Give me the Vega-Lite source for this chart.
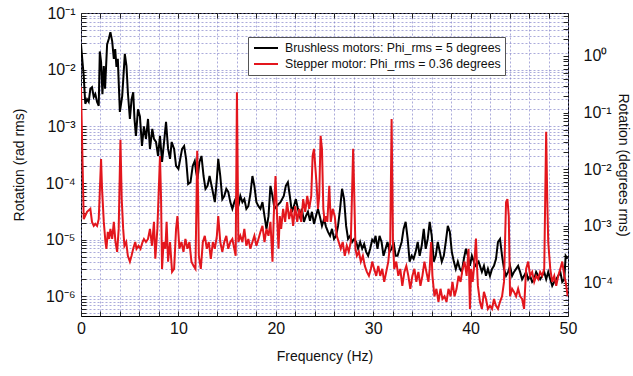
{
  "$schema": "https://vega.github.io/schema/vega-lite/v6.json",
  "width": 487,
  "height": 303,
  "autosize": "none",
  "padding": {"left": 81, "top": 13, "right": 65, "bottom": 60},
  "background": "white",
  "config": {
    "font": "Liberation Sans",
    "view": {"stroke": "#000", "strokeWidth": 1},
    "axis": {"domain": false, "tickColor": "#222", "tickSize": -5, "tickWidth": 1, "labelColor": "#111", "titleColor": "#111", "labelFontSize": 16, "titleFontSize": 14, "titleFontWeight": "normal", "gridColor": "#8080c8", "gridDash": [2, 2], "gridWidth": 0.7, "gridOpacity": 0.95, "labelOverlap": false}
  },
  "layer": [
    {
      "data": {"values": [
        {"f":0,"v":2.8e-2,"m":"B"},{"f":0.28,"v":7.7e-3,"m":"B"},{"f":0.44,"v":2.5e-3,"m":"B"},{"f":0.62,"v":3.0e-3,"m":"B"},{"f":0.79,"v":2.7e-3,"m":"B"},{"f":0.96,"v":4.6e-3,"m":"B"},{"f":1.13,"v":4.9e-3,"m":"B"},{"f":1.31,"v":3.3e-3,"m":"B"},{"f":1.47,"v":3.7e-3,"m":"B"},{"f":1.65,"v":2.7e-3,"m":"B"},{"f":1.82,"v":2.3e-3,"m":"B"},{"f":1.93,"v":2.1e-2,"m":"B"},{"f":2.06,"v":1.37e-2,"m":"B"},{"f":2.2,"v":3.7e-3,"m":"B"},{"f":2.34,"v":1.16e-2,"m":"B"},{"f":2.47,"v":4.6e-3,"m":"B"},{"f":2.68,"v":2.8e-2,"m":"B"},{"f":2.86,"v":3.5e-2,"m":"B"},{"f":3.02,"v":4.6e-2,"m":"B"},{"f":3.2,"v":3.2e-2,"m":"B"},{"f":3.37,"v":1.55e-2,"m":"B"},{"f":3.51,"v":2.3e-2,"m":"B"},{"f":3.64,"v":1.12e-2,"m":"B"},{"f":3.78,"v":1.55e-2,"m":"B"},{"f":3.99,"v":1.8e-3,"m":"B"},{"f":4.23,"v":3.4e-3,"m":"B"},{"f":4.5,"v":1.9e-2,"m":"B"},{"f":4.67,"v":1.16e-2,"m":"B"},{"f":4.81,"v":4.0e-3,"m":"B"},{"f":5.02,"v":1.35e-3,"m":"B"},{"f":5.19,"v":3.0e-3,"m":"B"},{"f":5.36,"v":4.0e-3,"m":"B"},{"f":5.49,"v":1.35e-3,"m":"B"},{"f":5.64,"v":6.8e-4,"m":"B"},{"f":5.85,"v":2.0e-3,"m":"B"},{"f":6.05,"v":1.5e-3,"m":"B"},{"f":6.26,"v":4.5e-4,"m":"B"},{"f":6.46,"v":1.0e-3,"m":"B"},{"f":6.67,"v":6.0e-4,"m":"B"},{"f":6.88,"v":1.35e-3,"m":"B"},{"f":7.08,"v":4.0e-4,"m":"B"},{"f":7.32,"v":9.0e-4,"m":"B"},{"f":7.49,"v":6.0e-4,"m":"B"},{"f":7.7,"v":5.3e-4,"m":"B"},{"f":7.91,"v":3.0e-4,"m":"B"},{"f":8.11,"v":6.8e-4,"m":"B"},{"f":8.32,"v":2.36e-4,"m":"B"},{"f":8.53,"v":5.3e-4,"m":"B"},{"f":8.73,"v":1.2e-3,"m":"B"},{"f":8.94,"v":4.0e-4,"m":"B"},{"f":9.14,"v":2.66e-4,"m":"B"},{"f":9.31,"v":5.3e-4,"m":"B"},{"f":9.56,"v":4.0e-4,"m":"B"},{"f":9.76,"v":2.0e-4,"m":"B"},{"f":10.0,"v":1.77e-4,"m":"B"},{"f":10.38,"v":4.0e-4,"m":"B"},{"f":10.59,"v":4.5e-4,"m":"B"},{"f":10.79,"v":2.66e-4,"m":"B"},{"f":11.0,"v":9.6e-5,"m":"B"},{"f":11.24,"v":1.03e-4,"m":"B"},{"f":11.47,"v":2.0e-4,"m":"B"},{"f":11.68,"v":2.45e-4,"m":"B"},{"f":11.82,"v":1.57e-4,"m":"B"},{"f":11.96,"v":1.18e-4,"m":"B"},{"f":12.16,"v":2.36e-4,"m":"B"},{"f":12.37,"v":3.0e-4,"m":"B"},{"f":12.58,"v":1.33e-4,"m":"B"},{"f":12.78,"v":7.9e-5,"m":"B"},{"f":12.99,"v":8.9e-5,"m":"B"},{"f":13.2,"v":1.33e-4,"m":"B"},{"f":13.47,"v":7.9e-5,"m":"B"},{"f":13.74,"v":4.6e-5,"m":"B"},{"f":13.95,"v":1.18e-4,"m":"B"},{"f":14.09,"v":2.66e-4,"m":"B"},{"f":14.3,"v":1.33e-4,"m":"B"},{"f":14.51,"v":5.2e-5,"m":"B"},{"f":14.71,"v":5.9e-5,"m":"B"},{"f":14.92,"v":7.9e-5,"m":"B"},{"f":15.12,"v":7.0e-5,"m":"B"},{"f":15.33,"v":4.6e-5,"m":"B"},{"f":15.54,"v":3.5e-5,"m":"B"},{"f":15.74,"v":4.6e-5,"m":"B"},{"f":15.95,"v":5.7e-5,"m":"B"},{"f":16.16,"v":3.9e-5,"m":"B"},{"f":16.36,"v":5.9e-5,"m":"B"},{"f":16.57,"v":4.6e-5,"m":"B"},{"f":16.77,"v":5.2e-5,"m":"B"},{"f":16.98,"v":3.5e-5,"m":"B"},{"f":17.18,"v":3.9e-5,"m":"B"},{"f":17.39,"v":6.4e-5,"m":"B"},{"f":17.6,"v":1.33e-4,"m":"B"},{"f":17.8,"v":8.9e-5,"m":"B"},{"f":18.01,"v":4.6e-5,"m":"B"},{"f":18.22,"v":3.9e-5,"m":"B"},{"f":18.42,"v":3.5e-5,"m":"B"},{"f":18.63,"v":4.6e-5,"m":"B"},{"f":18.84,"v":2.6e-5,"m":"B"},{"f":19.04,"v":1.55e-5,"m":"B"},{"f":19.25,"v":2.6e-5,"m":"B"},{"f":19.45,"v":8.9e-5,"m":"B"},{"f":19.66,"v":5.9e-5,"m":"B"},{"f":19.87,"v":3.5e-5,"m":"B"},{"f":20.07,"v":3.9e-5,"m":"B"},{"f":20.48,"v":4.6e-5,"m":"B"},{"f":20.82,"v":5.9e-5,"m":"B"},{"f":21.03,"v":8.9e-5,"m":"B"},{"f":21.24,"v":1.03e-4,"m":"B"},{"f":21.44,"v":5.9e-5,"m":"B"},{"f":21.65,"v":3.1e-5,"m":"B"},{"f":21.86,"v":3.9e-5,"m":"B"},{"f":22.06,"v":5.2e-5,"m":"B"},{"f":22.27,"v":3.5e-5,"m":"B"},{"f":22.47,"v":2.6e-5,"m":"B"},{"f":22.68,"v":3.5e-5,"m":"B"},{"f":22.89,"v":2.06e-5,"m":"B"},{"f":23.09,"v":2.6e-5,"m":"B"},{"f":23.3,"v":3.1e-5,"m":"B"},{"f":23.51,"v":2.15e-5,"m":"B"},{"f":23.71,"v":3.1e-5,"m":"B"},{"f":23.92,"v":1.9e-5,"m":"B"},{"f":24.12,"v":2.6e-5,"m":"B"},{"f":24.33,"v":3.5e-5,"m":"B"},{"f":24.54,"v":2.5e-5,"m":"B"},{"f":24.74,"v":1.75e-5,"m":"B"},{"f":24.95,"v":2.3e-5,"m":"B"},{"f":25.15,"v":1.7e-5,"m":"B"},{"f":25.36,"v":1.37e-5,"m":"B"},{"f":25.57,"v":1.17e-5,"m":"B"},{"f":25.77,"v":1.55e-5,"m":"B"},{"f":25.98,"v":1.03e-5,"m":"B"},{"f":26.19,"v":1.17e-5,"m":"B"},{"f":26.39,"v":1.75e-5,"m":"B"},{"f":26.6,"v":3.5e-5,"m":"B"},{"f":26.8,"v":7.9e-5,"m":"B"},{"f":27.01,"v":5.2e-5,"m":"B"},{"f":27.22,"v":1.75e-5,"m":"B"},{"f":27.42,"v":1.03e-5,"m":"B"},{"f":27.63,"v":1.17e-5,"m":"B"},{"f":27.84,"v":9.1e-6,"m":"B"},{"f":28.04,"v":1.03e-5,"m":"B"},{"f":28.25,"v":9.1e-6,"m":"B"},{"f":28.45,"v":6.9e-6,"m":"B"},{"f":28.66,"v":9.1e-6,"m":"B"},{"f":28.87,"v":6.9e-6,"m":"B"},{"f":29.07,"v":8.4e-6,"m":"B"},{"f":29.28,"v":6.1e-6,"m":"B"},{"f":29.48,"v":5.2e-6,"m":"B"},{"f":29.69,"v":6.9e-6,"m":"B"},{"f":29.9,"v":1.0e-5,"m":"B"},{"f":30.1,"v":9.1e-6,"m":"B"},{"f":30.24,"v":1.17e-5,"m":"B"},{"f":30.44,"v":6.9e-6,"m":"B"},{"f":30.65,"v":1.17e-5,"m":"B"},{"f":30.86,"v":9.1e-6,"m":"B"},{"f":31.06,"v":5.2e-6,"m":"B"},{"f":31.27,"v":6.9e-6,"m":"B"},{"f":31.47,"v":9.1e-6,"m":"B"},{"f":31.68,"v":6.1e-6,"m":"B"},{"f":31.89,"v":6.9e-6,"m":"B"},{"f":32.09,"v":9.1e-6,"m":"B"},{"f":32.3,"v":5.2e-6,"m":"B"},{"f":32.5,"v":5.2e-6,"m":"B"},{"f":32.71,"v":6.9e-6,"m":"B"},{"f":32.92,"v":9.1e-6,"m":"B"},{"f":33.12,"v":1.55e-5,"m":"B"},{"f":33.33,"v":2.06e-5,"m":"B"},{"f":33.54,"v":1.03e-5,"m":"B"},{"f":33.74,"v":4.1e-6,"m":"B"},{"f":33.95,"v":5.2e-6,"m":"B"},{"f":34.15,"v":4.6e-6,"m":"B"},{"f":34.36,"v":6.1e-6,"m":"B"},{"f":34.57,"v":9.1e-6,"m":"B"},{"f":34.77,"v":5.2e-6,"m":"B"},{"f":34.98,"v":7.8e-6,"m":"B"},{"f":35.19,"v":1.55e-5,"m":"B"},{"f":35.39,"v":6.9e-6,"m":"B"},{"f":35.6,"v":1.03e-5,"m":"B"},{"f":35.8,"v":2.06e-5,"m":"B"},{"f":36.01,"v":1.17e-5,"m":"B"},{"f":36.22,"v":4.1e-6,"m":"B"},{"f":36.42,"v":5.2e-6,"m":"B"},{"f":36.63,"v":9.1e-6,"m":"B"},{"f":36.84,"v":6.1e-6,"m":"B"},{"f":37.04,"v":4.1e-6,"m":"B"},{"f":37.25,"v":5.2e-6,"m":"B"},{"f":37.45,"v":9.1e-6,"m":"B"},{"f":37.66,"v":1.75e-5,"m":"B"},{"f":37.87,"v":1.37e-5,"m":"B"},{"f":38.07,"v":6.1e-6,"m":"B"},{"f":38.28,"v":4.1e-6,"m":"B"},{"f":38.48,"v":3.05e-6,"m":"B"},{"f":38.69,"v":4.1e-6,"m":"B"},{"f":38.9,"v":3.05e-6,"m":"B"},{"f":39.1,"v":2.7e-6,"m":"B"},{"f":39.31,"v":4.6e-6,"m":"B"},{"f":39.52,"v":6.9e-6,"m":"B"},{"f":39.72,"v":5.2e-6,"m":"B"},{"f":39.93,"v":3.45e-6,"m":"B"},{"f":40.13,"v":5.2e-6,"m":"B"},{"f":40.48,"v":3.45e-6,"m":"B"},{"f":40.82,"v":4.1e-6,"m":"B"},{"f":41.16,"v":2.7e-6,"m":"B"},{"f":41.37,"v":3.45e-6,"m":"B"},{"f":41.58,"v":2.3e-6,"m":"B"},{"f":41.78,"v":3.05e-6,"m":"B"},{"f":41.99,"v":2.3e-6,"m":"B"},{"f":42.2,"v":3.05e-6,"m":"B"},{"f":42.4,"v":3.45e-6,"m":"B"},{"f":42.61,"v":4.6e-6,"m":"B"},{"f":42.81,"v":9.1e-6,"m":"B"},{"f":43.02,"v":1.03e-5,"m":"B"},{"f":43.23,"v":5.2e-6,"m":"B"},{"f":43.43,"v":3.05e-6,"m":"B"},{"f":43.64,"v":2.3e-6,"m":"B"},{"f":43.85,"v":2.7e-6,"m":"B"},{"f":44.05,"v":3.45e-6,"m":"B"},{"f":44.26,"v":2.3e-6,"m":"B"},{"f":44.46,"v":2.7e-6,"m":"B"},{"f":44.67,"v":3.05e-6,"m":"B"},{"f":44.88,"v":3.45e-6,"m":"B"},{"f":45.08,"v":2.7e-6,"m":"B"},{"f":45.29,"v":2.0e-6,"m":"B"},{"f":45.49,"v":2.3e-6,"m":"B"},{"f":45.7,"v":2.7e-6,"m":"B"},{"f":45.91,"v":2.0e-6,"m":"B"},{"f":46.11,"v":2.3e-6,"m":"B"},{"f":46.32,"v":1.8e-6,"m":"B"},{"f":46.53,"v":2.0e-6,"m":"B"},{"f":46.73,"v":2.7e-6,"m":"B"},{"f":46.94,"v":2.3e-6,"m":"B"},{"f":47.14,"v":2.0e-6,"m":"B"},{"f":47.35,"v":2.3e-6,"m":"B"},{"f":47.56,"v":2.7e-6,"m":"B"},{"f":47.76,"v":2.0e-6,"m":"B"},{"f":47.97,"v":2.7e-6,"m":"B"},{"f":48.18,"v":2.0e-6,"m":"B"},{"f":48.38,"v":1.53e-6,"m":"B"},{"f":48.59,"v":1.8e-6,"m":"B"},{"f":48.79,"v":2.0e-6,"m":"B"},{"f":49.0,"v":2.3e-6,"m":"B"},{"f":49.21,"v":2.7e-6,"m":"B"},{"f":49.41,"v":1.8e-6,"m":"B"},{"f":49.62,"v":2.0e-6,"m":"B"},{"f":49.76,"v":5.2e-6,"m":"B"},{"f":49.97,"v":4.6e-6,"m":"B"},
        {"f":0,"v":4.9e-3,"m":"S"},{"f":0.28,"v":2.3e-5,"m":"S"},{"f":0.62,"v":3.1e-5,"m":"S"},{"f":0.96,"v":3.5e-5,"m":"S"},{"f":1.13,"v":2.06e-5,"m":"S"},{"f":1.31,"v":1.75e-5,"m":"S"},{"f":1.47,"v":1.9e-5,"m":"S"},{"f":1.65,"v":1.75e-5,"m":"S"},{"f":1.82,"v":2.3e-5,"m":"S"},{"f":2.06,"v":2.66e-4,"m":"S"},{"f":2.16,"v":7.9e-5,"m":"S"},{"f":2.34,"v":2.06e-5,"m":"S"},{"f":2.51,"v":9.1e-6,"m":"S"},{"f":2.61,"v":6.9e-6,"m":"S"},{"f":2.75,"v":1.37e-5,"m":"S"},{"f":2.89,"v":1.03e-5,"m":"S"},{"f":3.02,"v":1.55e-5,"m":"S"},{"f":3.2,"v":1.03e-5,"m":"S"},{"f":3.37,"v":2.06e-5,"m":"S"},{"f":3.54,"v":9.1e-6,"m":"S"},{"f":3.71,"v":6.1e-6,"m":"S"},{"f":3.87,"v":1.55e-5,"m":"S"},{"f":4.05,"v":5.8e-4,"m":"S"},{"f":4.18,"v":5.2e-5,"m":"S"},{"f":4.33,"v":1.55e-5,"m":"S"},{"f":4.46,"v":7.8e-6,"m":"S"},{"f":4.64,"v":9.1e-6,"m":"S"},{"f":4.81,"v":5.2e-6,"m":"S"},{"f":5.02,"v":4.1e-6,"m":"S"},{"f":5.19,"v":5.2e-6,"m":"S"},{"f":5.36,"v":6.9e-6,"m":"S"},{"f":5.57,"v":9.1e-6,"m":"S"},{"f":5.7,"v":6.9e-6,"m":"S"},{"f":5.91,"v":7.8e-6,"m":"S"},{"f":6.11,"v":6.9e-6,"m":"S"},{"f":6.32,"v":9.1e-6,"m":"S"},{"f":6.46,"v":1.03e-5,"m":"S"},{"f":6.67,"v":9.1e-6,"m":"S"},{"f":6.88,"v":1.03e-5,"m":"S"},{"f":7.08,"v":1.55e-5,"m":"S"},{"f":7.29,"v":7.8e-6,"m":"S"},{"f":7.49,"v":2.06e-5,"m":"S"},{"f":7.63,"v":4.6e-6,"m":"S"},{"f":7.84,"v":1.55e-5,"m":"S"},{"f":7.99,"v":7.9e-5,"m":"S"},{"f":8.11,"v":3.0e-4,"m":"S"},{"f":8.22,"v":5.2e-5,"m":"S"},{"f":8.32,"v":3.05e-6,"m":"S"},{"f":8.48,"v":9.1e-6,"m":"S"},{"f":8.66,"v":6.9e-6,"m":"S"},{"f":8.79,"v":2.06e-5,"m":"S"},{"f":8.94,"v":4.1e-6,"m":"S"},{"f":9.14,"v":9.1e-6,"m":"S"},{"f":9.35,"v":2.7e-6,"m":"S"},{"f":9.56,"v":3.05e-6,"m":"S"},{"f":9.76,"v":1.55e-5,"m":"S"},{"f":9.9,"v":2.6e-5,"m":"S"},{"f":10.1,"v":6.9e-6,"m":"S"},{"f":10.31,"v":9.1e-6,"m":"S"},{"f":10.52,"v":6.1e-6,"m":"S"},{"f":10.72,"v":1.03e-5,"m":"S"},{"f":10.93,"v":6.9e-6,"m":"S"},{"f":11.13,"v":9.1e-6,"m":"S"},{"f":11.34,"v":4.1e-6,"m":"S"},{"f":11.55,"v":3.45e-6,"m":"S"},{"f":11.75,"v":3.05e-6,"m":"S"},{"f":11.86,"v":5.2e-5,"m":"S"},{"f":11.93,"v":3.7e-4,"m":"S"},{"f":12.03,"v":5.2e-5,"m":"S"},{"f":12.1,"v":5.2e-6,"m":"S"},{"f":12.3,"v":3.05e-6,"m":"S"},{"f":12.51,"v":9.1e-6,"m":"S"},{"f":12.71,"v":1.17e-5,"m":"S"},{"f":12.92,"v":6.9e-6,"m":"S"},{"f":13.12,"v":9.1e-6,"m":"S"},{"f":13.33,"v":4.6e-6,"m":"S"},{"f":13.54,"v":9.1e-6,"m":"S"},{"f":13.74,"v":6.9e-6,"m":"S"},{"f":13.95,"v":1.17e-5,"m":"S"},{"f":14.09,"v":2.6e-5,"m":"S"},{"f":14.3,"v":9.1e-6,"m":"S"},{"f":14.51,"v":6.1e-6,"m":"S"},{"f":14.71,"v":9.1e-6,"m":"S"},{"f":14.92,"v":1.17e-5,"m":"S"},{"f":15.12,"v":6.9e-6,"m":"S"},{"f":15.33,"v":9.1e-6,"m":"S"},{"f":15.54,"v":1.03e-5,"m":"S"},{"f":15.74,"v":6.9e-6,"m":"S"},{"f":15.88,"v":5.2e-6,"m":"S"},{"f":16.01,"v":4.0e-3,"m":"S"},{"f":16.16,"v":9.1e-6,"m":"S"},{"f":16.36,"v":1.17e-5,"m":"S"},{"f":16.57,"v":9.1e-6,"m":"S"},{"f":16.77,"v":1.55e-5,"m":"S"},{"f":16.98,"v":7.8e-6,"m":"S"},{"f":17.18,"v":1.03e-5,"m":"S"},{"f":17.39,"v":6.9e-6,"m":"S"},{"f":17.6,"v":9.1e-6,"m":"S"},{"f":17.8,"v":1.17e-5,"m":"S"},{"f":18.01,"v":7.8e-6,"m":"S"},{"f":18.22,"v":1.03e-5,"m":"S"},{"f":18.42,"v":1.37e-5,"m":"S"},{"f":18.63,"v":1.75e-5,"m":"S"},{"f":18.84,"v":9.1e-6,"m":"S"},{"f":19.04,"v":1.55e-5,"m":"S"},{"f":19.25,"v":1.17e-5,"m":"S"},{"f":19.45,"v":2.06e-5,"m":"S"},{"f":19.66,"v":4.1e-6,"m":"S"},{"f":19.79,"v":2.6e-5,"m":"S"},{"f":19.97,"v":1.33e-4,"m":"S"},{"f":20.13,"v":2.6e-5,"m":"S"},{"f":20.28,"v":6.9e-6,"m":"S"},{"f":20.41,"v":2.6e-5,"m":"S"},{"f":20.55,"v":1.55e-5,"m":"S"},{"f":20.75,"v":3.5e-5,"m":"S"},{"f":20.96,"v":2.06e-5,"m":"S"},{"f":21.16,"v":4.6e-5,"m":"S"},{"f":21.37,"v":2.3e-5,"m":"S"},{"f":21.58,"v":3.5e-5,"m":"S"},{"f":21.78,"v":1.75e-5,"m":"S"},{"f":21.99,"v":3.9e-5,"m":"S"},{"f":22.2,"v":2.06e-5,"m":"S"},{"f":22.4,"v":3.5e-5,"m":"S"},{"f":22.61,"v":2.06e-5,"m":"S"},{"f":22.81,"v":5.2e-5,"m":"S"},{"f":23.02,"v":3.1e-5,"m":"S"},{"f":23.23,"v":5.9e-5,"m":"S"},{"f":23.43,"v":3.5e-5,"m":"S"},{"f":23.64,"v":5.9e-5,"m":"S"},{"f":23.78,"v":3.0e-4,"m":"S"},{"f":23.92,"v":4.0e-4,"m":"S"},{"f":24.05,"v":2.0e-4,"m":"S"},{"f":24.2,"v":8.9e-5,"m":"S"},{"f":24.33,"v":3.5e-5,"m":"S"},{"f":24.46,"v":5.9e-5,"m":"S"},{"f":24.6,"v":6.8e-4,"m":"S"},{"f":24.74,"v":4.0e-4,"m":"S"},{"f":24.88,"v":3.5e-5,"m":"S"},{"f":25.02,"v":2.06e-5,"m":"S"},{"f":25.15,"v":2.6e-5,"m":"S"},{"f":25.29,"v":2.06e-5,"m":"S"},{"f":25.49,"v":8.9e-5,"m":"S"},{"f":25.64,"v":2.06e-5,"m":"S"},{"f":25.84,"v":3.5e-5,"m":"S"},{"f":26.05,"v":2.6e-5,"m":"S"},{"f":26.26,"v":1.17e-5,"m":"S"},{"f":26.46,"v":9.1e-6,"m":"S"},{"f":26.67,"v":6.9e-6,"m":"S"},{"f":26.87,"v":9.1e-6,"m":"S"},{"f":27.08,"v":5.2e-6,"m":"S"},{"f":27.29,"v":7.8e-6,"m":"S"},{"f":27.49,"v":6.1e-6,"m":"S"},{"f":27.7,"v":9.1e-6,"m":"S"},{"f":27.84,"v":7.9e-5,"m":"S"},{"f":27.94,"v":4.0e-4,"m":"S"},{"f":28.04,"v":7.9e-5,"m":"S"},{"f":28.18,"v":6.9e-6,"m":"S"},{"f":28.32,"v":5.2e-6,"m":"S"},{"f":28.53,"v":6.1e-6,"m":"S"},{"f":28.73,"v":4.1e-6,"m":"S"},{"f":28.94,"v":5.2e-6,"m":"S"},{"f":29.14,"v":3.45e-6,"m":"S"},{"f":29.35,"v":2.7e-6,"m":"S"},{"f":29.56,"v":2.3e-6,"m":"S"},{"f":29.76,"v":3.05e-6,"m":"S"},{"f":29.9,"v":4.1e-6,"m":"S"},{"f":30.1,"v":3.05e-6,"m":"S"},{"f":30.31,"v":2.3e-6,"m":"S"},{"f":30.52,"v":3.45e-6,"m":"S"},{"f":30.72,"v":2.3e-6,"m":"S"},{"f":30.93,"v":3.05e-6,"m":"S"},{"f":31.13,"v":1.8e-6,"m":"S"},{"f":31.34,"v":2.7e-6,"m":"S"},{"f":31.55,"v":4.1e-6,"m":"S"},{"f":31.75,"v":9.1e-6,"m":"S"},{"f":31.89,"v":1.35e-3,"m":"S"},{"f":32.03,"v":9.1e-6,"m":"S"},{"f":32.16,"v":3.05e-6,"m":"S"},{"f":32.37,"v":4.1e-6,"m":"S"},{"f":32.58,"v":2.3e-6,"m":"S"},{"f":32.78,"v":3.05e-6,"m":"S"},{"f":32.99,"v":1.53e-6,"m":"S"},{"f":33.2,"v":2.7e-6,"m":"S"},{"f":33.4,"v":3.45e-6,"m":"S"},{"f":33.61,"v":2.3e-6,"m":"S"},{"f":33.81,"v":1.36e-6,"m":"S"},{"f":34.02,"v":2.3e-6,"m":"S"},{"f":34.23,"v":3.05e-6,"m":"S"},{"f":34.43,"v":1.8e-6,"m":"S"},{"f":34.64,"v":2.7e-6,"m":"S"},{"f":34.85,"v":1.53e-6,"m":"S"},{"f":35.05,"v":2.3e-6,"m":"S"},{"f":35.26,"v":4.1e-6,"m":"S"},{"f":35.46,"v":2.7e-6,"m":"S"},{"f":35.67,"v":1.8e-6,"m":"S"},{"f":35.8,"v":3.05e-6,"m":"S"},{"f":35.95,"v":9.1e-6,"m":"S"},{"f":36.08,"v":2.3e-6,"m":"S"},{"f":36.29,"v":1.0e-6,"m":"S"},{"f":36.49,"v":1.36e-6,"m":"S"},{"f":36.7,"v":8.0e-7,"m":"S"},{"f":36.91,"v":1.36e-6,"m":"S"},{"f":37.11,"v":9.0e-7,"m":"S"},{"f":37.32,"v":1.0e-6,"m":"S"},{"f":37.53,"v":8.0e-7,"m":"S"},{"f":37.73,"v":1.36e-6,"m":"S"},{"f":37.94,"v":1.0e-6,"m":"S"},{"f":38.14,"v":1.8e-6,"m":"S"},{"f":38.35,"v":1.0e-6,"m":"S"},{"f":38.56,"v":1.36e-6,"m":"S"},{"f":38.76,"v":2.3e-6,"m":"S"},{"f":38.97,"v":1.8e-6,"m":"S"},{"f":39.18,"v":3.05e-6,"m":"S"},{"f":39.38,"v":4.1e-6,"m":"S"},{"f":39.59,"v":2.3e-6,"m":"S"},{"f":39.79,"v":6.9e-6,"m":"S"},{"f":39.93,"v":6.0e-7,"m":"S"},{"f":40.05,"v":3.05e-6,"m":"S"},{"f":40.21,"v":1.8e-6,"m":"S"},{"f":40.34,"v":3.05e-6,"m":"S"},{"f":40.44,"v":5.5e-6,"m":"S"},{"f":40.55,"v":1.05e-5,"m":"S"},{"f":40.67,"v":3.05e-6,"m":"S"},{"f":40.75,"v":1.53e-6,"m":"S"},{"f":40.96,"v":8.0e-7,"m":"S"},{"f":41.16,"v":6.0e-7,"m":"S"},{"f":41.37,"v":1.2e-6,"m":"S"},{"f":41.58,"v":9.0e-7,"m":"S"},{"f":41.78,"v":6.0e-7,"m":"S"},{"f":41.99,"v":6.8e-7,"m":"S"},{"f":42.2,"v":6.0e-7,"m":"S"},{"f":42.4,"v":9.0e-7,"m":"S"},{"f":42.61,"v":6.8e-7,"m":"S"},{"f":42.81,"v":6.0e-7,"m":"S"},{"f":43.02,"v":8.0e-7,"m":"S"},{"f":43.23,"v":1.0e-6,"m":"S"},{"f":43.43,"v":1.8e-6,"m":"S"},{"f":43.64,"v":4.6e-5,"m":"S"},{"f":43.78,"v":5.2e-5,"m":"S"},{"f":43.92,"v":2.6e-5,"m":"S"},{"f":44.05,"v":1.0e-6,"m":"S"},{"f":44.26,"v":1.36e-6,"m":"S"},{"f":44.46,"v":1.2e-6,"m":"S"},{"f":44.67,"v":1.0e-6,"m":"S"},{"f":44.88,"v":1.36e-6,"m":"S"},{"f":45.08,"v":1.0e-6,"m":"S"},{"f":45.29,"v":9.0e-7,"m":"S"},{"f":45.49,"v":6.0e-7,"m":"S"},{"f":45.7,"v":3.05e-6,"m":"S"},{"f":45.91,"v":4.1e-6,"m":"S"},{"f":46.11,"v":2.3e-6,"m":"S"},{"f":46.32,"v":2.7e-6,"m":"S"},{"f":46.53,"v":1.8e-6,"m":"S"},{"f":46.73,"v":2.3e-6,"m":"S"},{"f":46.94,"v":2.0e-6,"m":"S"},{"f":47.14,"v":2.7e-6,"m":"S"},{"f":47.35,"v":2.3e-6,"m":"S"},{"f":47.56,"v":3.05e-6,"m":"S"},{"f":47.66,"v":5.2e-5,"m":"S"},{"f":47.76,"v":8.0e-4,"m":"S"},{"f":47.87,"v":5.2e-5,"m":"S"},{"f":47.97,"v":9.1e-6,"m":"S"},{"f":48.18,"v":3.05e-6,"m":"S"},{"f":48.38,"v":1.8e-6,"m":"S"},{"f":48.59,"v":2.3e-6,"m":"S"},{"f":48.79,"v":1.53e-6,"m":"S"},{"f":49.0,"v":2.3e-6,"m":"S"},{"f":49.21,"v":3.05e-6,"m":"S"},{"f":49.41,"v":4.1e-6,"m":"S"},{"f":49.62,"v":2.3e-6,"m":"S"},{"f":49.76,"v":1.8e-6,"m":"S"},{"f":49.97,"v":1.0e-6,"m":"S"}
      ]},
      "mark": {"type": "line", "strokeWidth": 2, "clip": true},
      "encoding": {
        "x": {"field": "f", "type": "quantitative", "scale": {"domain": [0, 50], "nice": false},
          "axis": {"values": [0,2,4,6,8,10,12,14,16,18,20,22,24,26,28,30,32,34,36,38,40,42,44,46,48,50], "labelExpr": "datum.value % 10 === 0 ? datum.label : ''", "grid": true, "title": "Frequency (Hz)", "labelPadding": 9, "titlePadding": 13, "labelFlush": false}},
        "y": {"field": "v", "type": "quantitative", "scale": {"type": "log", "domain": [4.5e-7, 0.1], "nice": false},
          "axis": {"values": [5e-7,6e-7,7e-7,8e-7,9e-7,1e-6,2e-6,3e-6,4e-6,5e-6,6e-6,7e-6,8e-6,9e-6,1e-5,2e-5,3e-5,4e-5,5e-5,6e-5,7e-5,8e-5,9e-5,1e-4,2e-4,3e-4,4e-4,5e-4,6e-4,7e-4,8e-4,9e-4,1e-3,2e-3,3e-3,4e-3,5e-3,6e-3,7e-3,8e-3,9e-3,1e-2,2e-2,3e-2,4e-2,5e-2,6e-2,7e-2,8e-2,9e-2,1e-1],
            "labelExpr": "abs(log(datum.value)/LN10 - round(log(datum.value)/LN10)) > 0.01 ? '' : '10' + ['⁻⁷','⁻⁶','⁻⁵','⁻⁴','⁻³','⁻²','⁻¹','⁰'][round(log(datum.value)/LN10) + 7]",
            "grid": true, "title": "Rotation (rad rms)", "labelPadding": 11, "titlePadding": 19}},
        "color": {"field": "m", "type": "nominal", "scale": {"domain": ["B", "S"], "range": ["#000000", "#e3161d"]},
          "legend": {"orient": "none", "legendX": 167, "legendY": 24, "title": null, "symbolType": "M-2,0H2", "symbolStrokeWidth": 2, "symbolSize": 144, "symbolOffset": 7, "labelFontSize": 12.3, "labelColor": "#111", "labelLimit": 400, "labelOffset": 12,
            "labelExpr": "datum.label == 'B' ? 'Brushless motors: Phi_rms = 5 degrees' : 'Stepper motor: Phi_rms = 0.36 degrees'",
            "fillColor": "white", "strokeColor": "#555", "padding": 4, "rowPadding": 2}}
      }
    },
    {
      "data": {"values": [{"k": 1}]},
      "mark": {"type": "point", "opacity": 0},
      "encoding": {
        "y": {"datum": 1, "type": "quantitative", "scale": {"type": "log", "domain": [2.578e-5, 5.7296], "nice": false},
          "axis": {"orient": "right", "values": [3e-5,4e-5,5e-5,6e-5,7e-5,8e-5,9e-5,1e-4,2e-4,3e-4,4e-4,5e-4,6e-4,7e-4,8e-4,9e-4,1e-3,2e-3,3e-3,4e-3,5e-3,6e-3,7e-3,8e-3,9e-3,1e-2,2e-2,3e-2,4e-2,5e-2,6e-2,7e-2,8e-2,9e-2,1e-1,2e-1,3e-1,4e-1,5e-1,6e-1,7e-1,8e-1,9e-1,1,2,3,4,5],
            "labelExpr": "abs(log(datum.value)/LN10 - round(log(datum.value)/LN10)) > 0.01 ? '' : '10' + ['⁻⁵','⁻⁴','⁻³','⁻²','⁻¹','⁰'][round(log(datum.value)/LN10) + 5]",
            "grid": false, "title": "Rotation (degrees rms)", "titleAngle": 90, "labelPadding": 20, "titlePadding": 3}}
      }
    },
    {
      "data": {"values": [{"k": 1}]},
      "mark": {"type": "point", "opacity": 0},
      "encoding": {
        "x": {"datum": 0, "type": "quantitative",
          "axis": {"orient": "top", "values": [0,2,4,6,8,10,12,14,16,18,20,22,24,26,28,30,32,34,36,38,40,42,44,46,48,50], "labels": false, "grid": false, "title": null}}
      }
    }
  ],
  "resolve": {"scale": {"y": "independent"}, "axis": {"x": "independent"}}
}
